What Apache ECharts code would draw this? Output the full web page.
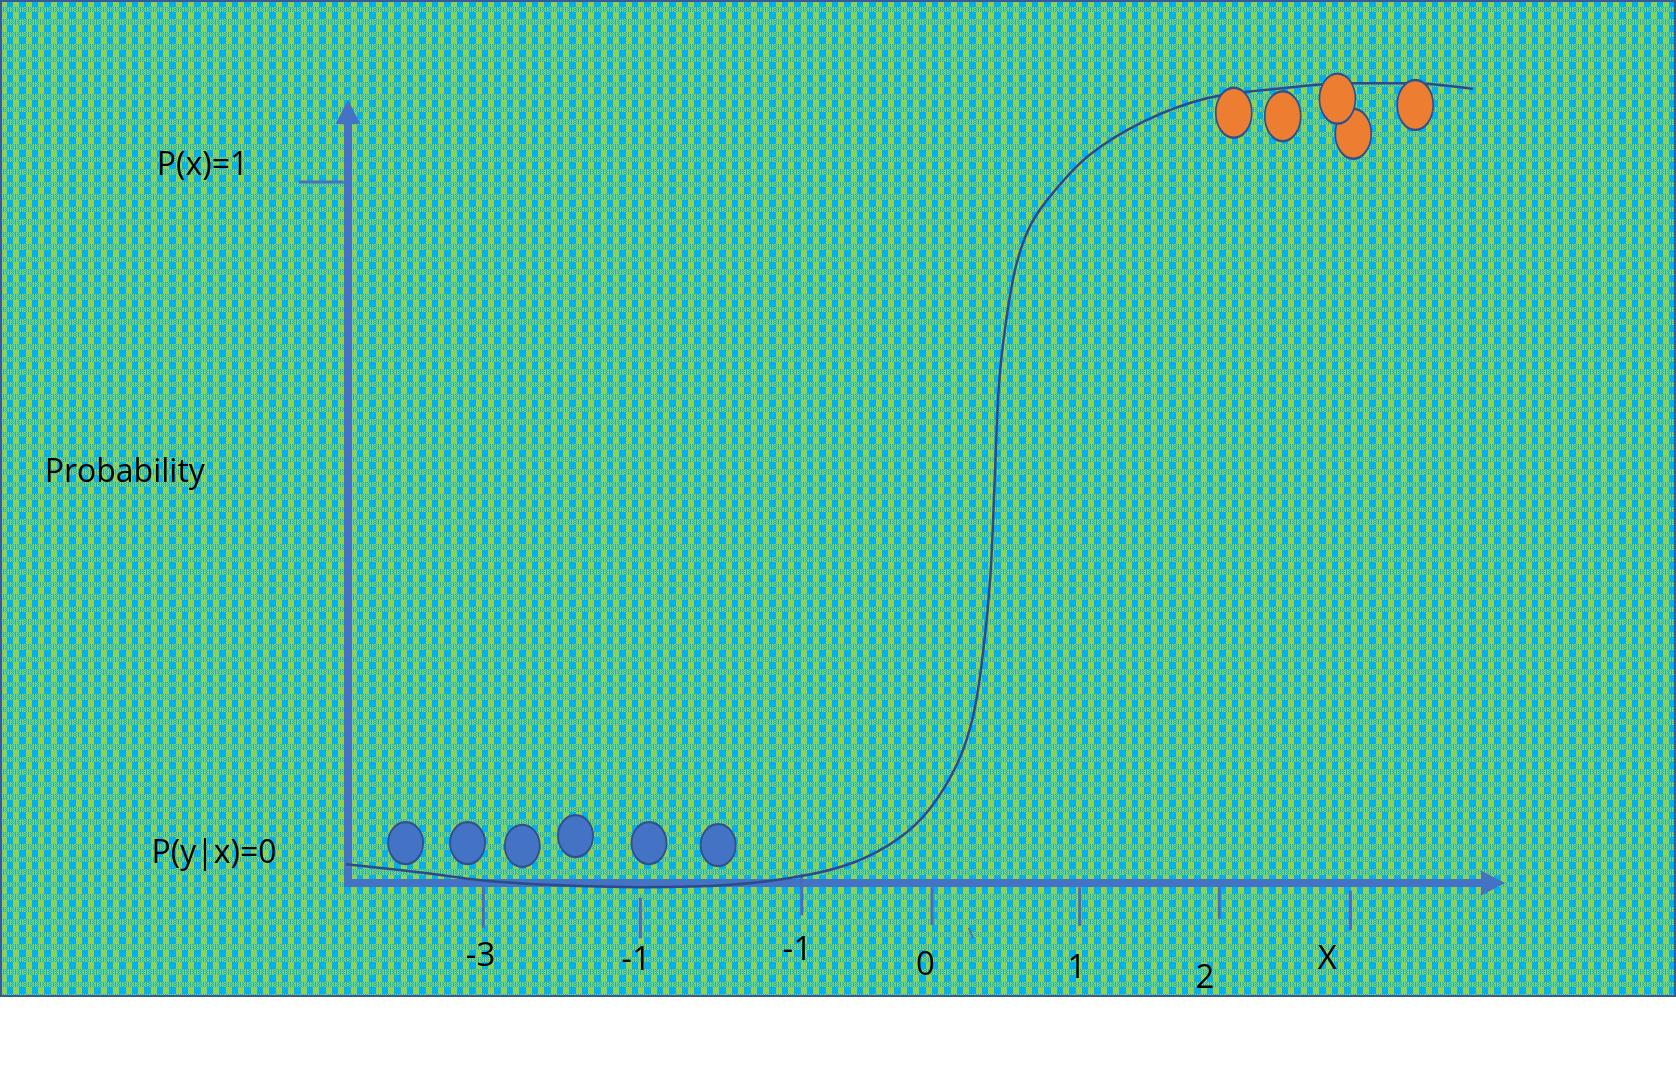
<!DOCTYPE html>
<html><head><meta charset="utf-8">
<script src="https://cdn.jsdelivr.net/npm/echarts@6/dist/echarts.min.js"></script>
<style>html,body{margin:0;padding:0;background:#fff}#c{width:1676px;height:1086px}</style>
</head><body><div id="c"></div>
<script>
// ---- data (diagram units: x = feature value, y = probability) ----
const curveX = [-4.07, -3.50, -3.13, -2.61, -2.02, -1.42, -0.90, -0.53, -0.23, -0.01, 0.18, 0.29, 0.36, 0.41, 0.44, 0.47, 0.52, 0.59, 0.69, 0.85, 1.10, 1.48, 1.92, 2.44, 2.89, 3.33, 3.76];
const curveY = [0.027, 0.014, 0.004, -0.003, -0.006, -0.003, 0.010, 0.030, 0.063, 0.106, 0.170, 0.238, 0.330, 0.437, 0.574, 0.711, 0.803, 0.882, 0.939, 0.986, 1.039, 1.087, 1.120, 1.134, 1.141, 1.141, 1.133];
const class0X = [-3.65, -3.22, -2.84, -2.47, -1.96, -1.48];
const class0Y = [0.057, 0.057, 0.053, 0.067, 0.057, 0.054];
const class1X = [2.10, 2.44, 2.93, 2.82, 3.36];
const class1Y = [1.099, 1.094, 1.069, 1.119, 1.110];
const tickLabels = ['-3', '-1', '-1', '0', '1', '2', 'X'];
const tickX = [-3.11, -2.02, -0.90, 0.005, 1.03, 2.00, 2.91];
const tickTop = [-0.006, -0.021, 0.013, -0.006, -0.006, -0.006, -0.011];
const tickBottom = [-0.064, -0.079, -0.046, -0.060, -0.061, -0.051, -0.067];
const labelX = [-3.13, -2.05, -0.93, -0.04, 1.01, 1.90, 2.75];
const labelY = [-0.105, -0.110, -0.097, -0.118, -0.122, -0.136, -0.109];
const sideLabels = ['P(x)=1', 'Probability', 'P(y|x)=0'];
const sideLabelX = [-5.06, -5.60, -4.98];
const sideLabelY = [1.023, 0.585, 0.042];
const oneMarkX = [-4.39, -4.08];
const oneMarkY = [1.0, 1.0];
const strayMarkX = [0.261, 0.289];
const strayMarkY = [-0.064, -0.079];

function makePattern() {
  const c = document.createElement('canvas'); c.width = 25; c.height = 25;
  const g = c.getContext('2d');
  const B = '#00B0F0', G = '#92D050';
  const xs = [[0, 12], [12, 13]], ys = [[0, 12], [12, 13]];
  for (const [x0, w] of xs) for (const [y0, h] of ys) {
    const bh = 7;
    g.fillStyle = B; g.fillRect(x0, y0, w, h);
    g.fillStyle = G; g.fillRect(x0 + 1, y0, 6, bh);
    for (let y = y0 + bh; y < y0 + h; y++) for (let x = x0; x < x0 + w; x++) {
      const r = y - y0 - bh;
      if (r % 2 === 0) g.fillStyle = ((x % 2) ? B : G);
      else g.fillStyle = ((x % 3) ? G : B);
      g.fillRect(x, y, 1, 1);
    }
  }
  return c;
}

const FONT = '"Open Sans", "Noto Sans", sans-serif';
const AXIS = '#4472C4';
const chart = echarts.init(document.getElementById('c'), null, {renderer: 'canvas'});
function axisOpt(extra) {
  return Object.assign({
    type: 'value',
    axisLine: {show: true, onZero: false, symbol: ['none', 'triangle'], symbolSize: [25, 24],
      lineStyle: {color: AXIS, width: 8, cap: 'square'}},
    axisTick: {show: false}, axisLabel: {show: false}, splitLine: {show: false}
  }, extra);
}

chart.setOption({
  animation: false,
  backgroundColor: '#ffffff',
  graphic: [{
    type: 'rect', z: -10, silent: true,
    shape: {x: 1, y: 1, width: 1674, height: 995},
    style: {fill: {image: makePattern(), repeat: 'repeat'}, stroke: '#3A5A96', lineWidth: 2}
  }],
  grid: {left: 348, right: 183, top: 112, bottom: 203, containLabel: false},
  xAxis: axisOpt({min: -4.05, max: 3.9}),
  yAxis: axisOpt({min: 0, max: 1.1}),
  series: [
    {
      type: 'line', clip: false, smooth: 0.35, symbol: 'none', z: 3,
      data: curveX.map((x, i) => [x, curveY[i]]),
      lineStyle: {color: '#2F4A8C', width: 2.5}
    },
    {
      type: 'scatter', clip: false, z: 4, symbol: 'circle', symbolSize: [35, 42],
      data: class0X.map((x, i) => [x, class0Y[i]]),
      itemStyle: {color: '#4472C4', borderColor: '#2F528F', borderWidth: 2, opacity: 1}
    },
    {
      type: 'scatter', clip: false, z: 4, symbol: 'circle', symbolSize: [36, 50],
      data: class1X.map((x, i) => [x, class1Y[i]]),
      itemStyle: {color: '#ED7D31', borderColor: '#2F528F', borderWidth: 2, opacity: 1}
    },
    {
      type: 'custom', clip: false, z: 3,
      data: tickX.map((x, i) => [x, tickTop[i], tickBottom[i]]),
      renderItem: (params, api) => {
        const p0 = api.coord([api.value(0), api.value(1)]);
        const p1 = api.coord([api.value(0), api.value(2)]);
        return {type: 'line', shape: {x1: p0[0], y1: p0[1], x2: p1[0], y2: p1[1]},
          style: {stroke: '#4F6BC0', lineWidth: 3}};
      }
    },
    {
      type: 'custom', clip: false, z: 3,
      data: [[oneMarkX[0], oneMarkY[0], oneMarkX[1], oneMarkY[1], 3], [strayMarkX[0], strayMarkY[0], strayMarkX[1], strayMarkY[1], 2]],
      renderItem: (params, api) => {
        const p0 = api.coord([api.value(0), api.value(1)]);
        const p1 = api.coord([api.value(2), api.value(3)]);
        return {type: 'line', shape: {x1: p0[0], y1: p0[1], x2: p1[0], y2: p1[1]},
          style: {stroke: AXIS, lineWidth: api.value(4)}};
      }
    },
    {
      type: 'custom', clip: false, z: 5,
      data: labelX.map((x, i) => [x, labelY[i]])
        .concat(sideLabelX.map((x, i) => [x, sideLabelY[i]])),
      renderItem: (params, api) => {
        const p = api.coord([api.value(0), api.value(1)]);
        const d = params.dataIndex;
        const all = tickLabels.concat(sideLabels);
        const fs = d < tickLabels.length ? 33 : 32;
        return {type: 'text', x: p[0], y: p[1],
          style: {text: all[d], font: fs + 'px ' + FONT, fill: '#000', align: 'center', verticalAlign: 'middle'}};
      }
    }
  ]
});
</script>
</body></html>
